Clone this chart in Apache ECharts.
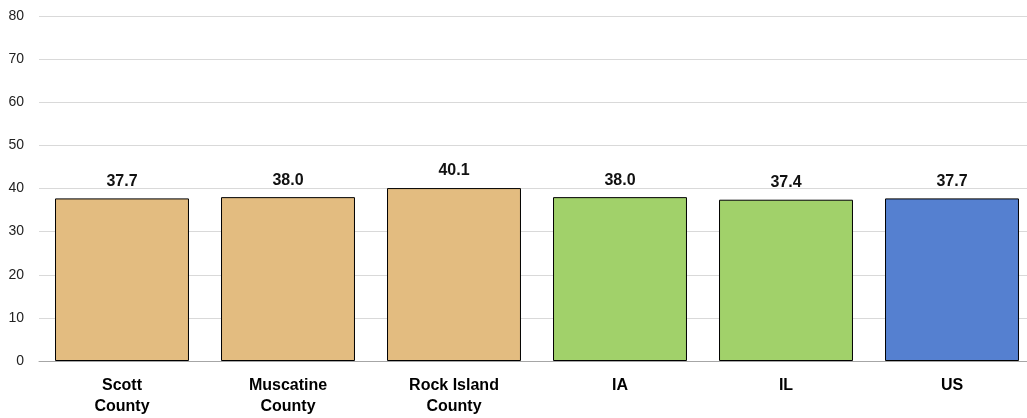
<!DOCTYPE html>
<html><head><meta charset="utf-8">
<script src="https://cdn.jsdelivr.net/npm/echarts@6/dist/echarts.min.js"></script>
<style>html,body{margin:0;padding:0;background:#fff;overflow:hidden;width:1027px;height:418px}#c{width:1035px;height:418px}</style>
</head><body><div id="c"></div>
<script>
const categories = ['Scott\nCounty', 'Muscatine\nCounty', 'Rock Island\nCounty', 'IA', 'IL', 'US'];
const values = [37.7, 38.0, 40.1, 38.0, 37.4, 37.7];
const barColors = ['#E3BC80', '#E3BC80', '#E3BC80', '#A1D16A', '#A1D16A', '#5580D0'];
const yTicks = [0, 80, 10];

const font = '"Liberation Sans", Arial';
const chart = echarts.init(document.getElementById('c'), null, {renderer: 'canvas'});
chart.setOption({
  animation: false,
  grid: {left: 39, right: 0, top: 16, bottom: 57, containLabel: false},
  xAxis: {
    type: 'category', data: categories,
    axisLine: {lineStyle: {color: '#A6A6A6', width: 1}},
    axisTick: {show: false},
    axisLabel: {interval: 0, color: '#000', fontFamily: font, fontWeight: 'bold', fontSize: 16, lineHeight: 21, margin: 14}
  },
  yAxis: {
    type: 'value', min: yTicks[0], max: yTicks[1], interval: yTicks[2],
    axisLine: {show: false}, axisTick: {show: false},
    splitLine: {lineStyle: {color: '#D9D9D9', width: 1}},
    axisLabel: {color: '#222', fontFamily: font, fontSize: 14, margin: 15}
  },
  series: [{
    type: 'bar',
    data: values.map((v, i) => ({value: v, itemStyle: {color: barColors[i]}})),
    barCategoryGap: '19.3%',
    itemStyle: {borderColor: '#000', borderWidth: 1},
    label: {show: true, position: 'top', distance: 9, formatter: p => p.value.toFixed(1), color: '#111', fontFamily: font, fontWeight: 'bold', fontSize: 16}
  }]
});
</script></body></html>
